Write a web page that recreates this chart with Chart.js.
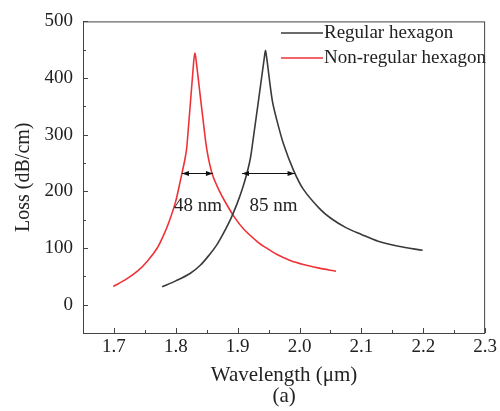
<!DOCTYPE html>
<html>
<head>
<meta charset="utf-8">
<script src="https://cdn.jsdelivr.net/npm/chart.js@4"></script>
<style>
  html, body { margin: 0; padding: 0; background: #fff; }
  #wrap { width: 500px; height: 411px; }
</style>
</head>
<body>
<div id="wrap"><canvas id="lossChart"></canvas></div>
<script>
// data
var regularX = [1.778, 1.80, 1.823, 1.84, 1.855, 1.866, 1.876, 1.889, 1.900, 1.908, 1.914, 1.919, 1.922, 1.943, 1.945, 1.947, 1.956, 1.963, 1.974, 1.990, 2.006, 2.032, 2.05, 2.075, 2.10, 2.127, 2.16, 2.199];
var regularY = [31.6, 42, 55, 70, 89, 105, 124, 152, 181, 206, 228, 250, 268, 435, 449, 435, 360, 327, 284, 238, 204, 170, 153, 136, 124, 112, 103, 96];
var nonRegX = [1.699, 1.72, 1.739, 1.755, 1.770, 1.780, 1.789, 1.7995, 1.808, 1.815, 1.818, 1.829, 1.831, 1.833, 1.848, 1.853, 1.860, 1.869, 1.879, 1.895, 1.91, 1.932, 1.945, 1.963, 1.985, 2.006, 2.03, 2.059];
var nonRegY = [32, 45, 60, 78, 100, 122, 146, 181, 222, 258, 280, 430, 444, 430, 290, 257, 227, 204, 183, 154, 133, 111, 101, 89, 78, 71, 65, 59];
var seriesNames = ['Regular hexagon', 'Non-regular hexagon'];
var xTicks = [1.7, 1.8, 1.9, 2.0, 2.1, 2.2, 2.3];
var yTicks = [0, 100, 200, 300, 400, 500];
// FWHM markers: [start, end], level, label
var fwhmStart = [1.810, 1.907];
var fwhmEnd = [1.860, 1.992];
var fwhmLevel = [233, 233];
var fwhmText = ['48 nm', '85 nm'];
var fwhmTextX = [1.836, 1.958];
var fwhmTextY = [175, 175];

function toPoints(xs, ys) {
    var pts = [];
    for (var i in xs) {
        pts.push({ x: xs[i], y: ys[i] });
    }
    return pts;
}

var FONT = '"Liberation Serif", "DejaVu Serif", serif';
var colors = ['#3a3a3a', '#ee3338'];

// inward ticks, frame, arrows and legend
var decorPlugin = {
    id: 'decor',
    afterDatasetsDraw: function (chart) {
        var ctx = chart.ctx;
        var a = chart.chartArea;
        var xs = chart.scales.x, ys = chart.scales.y;
        ctx.save();
        ctx.strokeStyle = '#444';
        ctx.lineWidth = 1;
        ctx.strokeRect(a.left + 0.5, a.top + 0.5, a.right - a.left - 1, a.bottom - a.top);

        // x ticks (major + minor)
        for (var v = 1.7; v <= 2.3001; v += 0.05) {
            var px = Math.round(xs.getPixelForValue(v)) + 0.5;
            var major = Math.abs(Math.round(v * 10) - v * 10) < 0.01;
            ctx.beginPath();
            ctx.moveTo(px, a.bottom);
            ctx.lineTo(px, a.bottom - (major ? 5 : 3));
            ctx.stroke();
        }
        for (var w = -50; w <= 500; w += 50) {
            var py = Math.round(ys.getPixelForValue(w)) + 0.5;
            var maj = w % 100 === 0;
            ctx.beginPath();
            ctx.moveTo(a.left, py);
            ctx.lineTo(a.left + (maj ? 5 : 3), py);
            ctx.stroke();
        }

        // FWHM arrows
        ctx.strokeStyle = '#111';
        ctx.fillStyle = '#111';
        for (var i = 0; i < fwhmStart.length; i++) {
            var x1 = xs.getPixelForValue(fwhmStart[i]);
            var x2 = xs.getPixelForValue(fwhmEnd[i]);
            var y = Math.round(ys.getPixelForValue(fwhmLevel[i])) + 0.5;
            ctx.beginPath();
            ctx.moveTo(x1, y);
            ctx.lineTo(x2, y);
            ctx.stroke();
            ctx.beginPath();
            ctx.moveTo(x1, y); ctx.lineTo(x1 + 7, y - 2.5); ctx.lineTo(x1 + 7, y + 2.5); ctx.closePath();
            ctx.moveTo(x2, y); ctx.lineTo(x2 - 7, y - 2.5); ctx.lineTo(x2 - 7, y + 2.5); ctx.closePath();
            ctx.fill();
            ctx.font = '19px ' + FONT;
            ctx.textAlign = 'center';
            ctx.textBaseline = 'middle';
            ctx.fillStyle = '#222';
            ctx.fillText(fwhmText[i], xs.getPixelForValue(fwhmTextX[i]), ys.getPixelForValue(fwhmTextY[i]));
            ctx.fillStyle = '#111';
        }

        // legend
        ctx.font = '19px ' + FONT;
        ctx.textAlign = 'left';
        ctx.textBaseline = 'middle';
        for (var k = 0; k < seriesNames.length; k++) {
            var ly = 33 + k * 25;
            ctx.strokeStyle = colors[k];
            ctx.lineWidth = 1.5;
            ctx.beginPath();
            ctx.moveTo(281, ly);
            ctx.lineTo(323, ly);
            ctx.stroke();
            ctx.fillStyle = '#222';
            ctx.fillText(seriesNames[k], 324, ly);
        }
        ctx.restore();
    }
};

var chartdata = {
    datasets: [{
        label: seriesNames[0],
        data: toPoints(regularX, regularY),
        borderColor: colors[0],
        borderWidth: 1.6,
        pointRadius: 0,
        tension: 0.3
    }, {
        label: seriesNames[1],
        data: toPoints(nonRegX, nonRegY),
        borderColor: colors[1],
        borderWidth: 1.6,
        pointRadius: 0,
        tension: 0.3
    }]
};

new Chart(document.getElementById('lossChart'), {
    type: 'line',
    data: chartdata,
    plugins: [decorPlugin],
    options: {
        responsive: true,
        maintainAspectRatio: false,
        animation: false,
        layout: { padding: { top: 15, right: 9, left: 0, bottom: 0 } },
        plugins: { legend: { display: false }, tooltip: { enabled: false } },
        scales: {
            x: {
                type: 'linear',
                min: 1.65,
                max: 2.3,
                afterFit: function (s) { s.height = 78; },
                afterBuildTicks: function (s) { s.ticks = xTicks.map(function (v) { return { value: v }; }); },
                grid: { display: false, drawTicks: false },
                border: { display: false },
                ticks: {
                    padding: 3,
                    color: '#222',
                    font: { family: FONT, size: 19 },
                    maxRotation: 0,
                    callback: function (v) { return v.toFixed(1); }
                },
                title: {
                    display: true,
                    text: ['Wavelength (\u03bcm)', '(a)'],
                    color: '#222',
                    font: { family: FONT, size: 21, lineHeight: 1.0 },
                    padding: { top: 6 }
                }
            },
            y: {
                min: -50,
                max: 500,
                afterFit: function (s) { s.width = 83; },
                afterBuildTicks: function (s) { s.ticks = yTicks.map(function (v) { return { value: v }; }); },
                grid: { display: false, drawTicks: false },
                border: { display: false },
                ticks: {
                    padding: 10,
                    color: '#222',
                    font: { family: FONT, size: 19 }
                },
                title: {
                    display: true,
                    text: 'Loss (dB/cm)',
                    color: '#222',
                    font: { family: FONT, size: 20 },
                    padding: { top: 12, bottom: 0 }
                }
            }
        }
    }
});
</script>
</body>
</html>
